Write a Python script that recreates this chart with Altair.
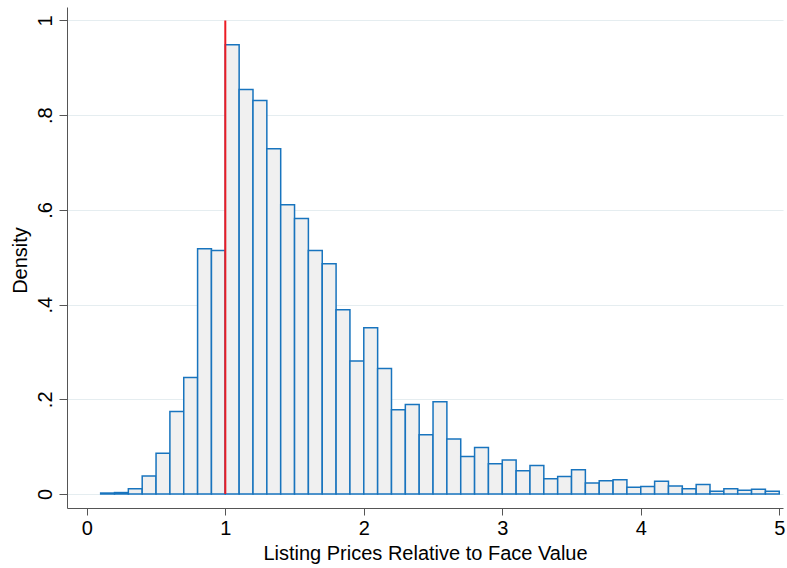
import altair as alt
import pandas as pd

# Histogram of listing price / face value ratios (bin width 0.1)
bin_starts = [round(0.1 * i, 1) for i in range(1, 50)]
density = [
    0.002, 0.003, 0.011, 0.038, 0.086, 0.174, 0.246, 0.518, 0.514,
    0.949, 0.854, 0.831, 0.729, 0.611, 0.582, 0.514, 0.486, 0.389, 0.281,
    0.351, 0.265, 0.178, 0.189, 0.125, 0.195, 0.116, 0.079, 0.098, 0.064,
    0.072, 0.049, 0.060, 0.032, 0.037, 0.051, 0.023, 0.028, 0.030, 0.014,
    0.016, 0.027, 0.017, 0.011, 0.020, 0.006, 0.011, 0.008, 0.010, 0.006,
]
bin_width = 0.1

x_ticks = [0, 1, 2, 3, 4, 5]
y_ticks = [0, 0.2, 0.4, 0.6, 0.8, 1]
y_tick_labels = ["0", ".2", ".4", ".6", ".8", "1"]

face_value_ratio = 1.0

hist = pd.DataFrame({
    "start": bin_starts,
    "end": [round(s + bin_width, 1) for s in bin_starts],
    "density": density,
    "base": [0.0] * len(bin_starts),
})
ref = pd.DataFrame({"x": [face_value_ratio], "y0": [0.0], "y1": [1.0]})

FONT = "Liberation Sans"
AXIS_COLOR = "#555555"

y_label_expr = " : ".join(
    f"abs(datum.value - {v}) < 1e-6 ? '{lab}'" for v, lab in zip(y_ticks, y_tick_labels)
) + " : ''"

x_scale = alt.Scale(domain=[-0.143, 5.027], nice=False, zero=False)
y_scale = alt.Scale(domain=[-0.0296, 1.0285], nice=False, zero=False)

x_axis = alt.Axis(
    values=x_ticks, format="d", grid=False,
    title="Listing Prices Relative to Face Value",
    titleFont=FONT, titleFontSize=20, titleFontWeight="normal", titleColor="black",
    titleY=51, titleBaseline="alphabetic",
    labelFont=FONT, labelFontSize=20, labelColor="black", labelPadding=3,
    tickSize=7, tickColor=AXIS_COLOR, domainColor=AXIS_COLOR,
    labelFlush=False, labelOverlap=False,
)
y_axis = alt.Axis(
    values=y_ticks, labelExpr=y_label_expr,
    grid=True, gridColor="#e5edf0", gridWidth=1,
    title="Density",
    titleFont=FONT, titleFontSize=20, titleFontWeight="normal", titleColor="black",
    titleAngle=270, titleX=-41, titleY=253, titleBaseline="alphabetic", titleAlign="center",
    labelFont=FONT, labelFontSize=20, labelColor="black",
    labelAngle=270, labelAlign="center", labelBaseline="alphabetic", labelPadding=8,
    tickSize=8, tickColor=AXIS_COLOR, domainColor=AXIS_COLOR,
    labelFlush=False, labelOverlap=False,
)

bars = alt.Chart(hist).mark_rect(
    fill="#f0f0f0", stroke="#1874be", strokeWidth=1.5
).encode(
    x=alt.X("start:Q", scale=x_scale, axis=x_axis),
    x2="end:Q",
    y=alt.Y("density:Q", scale=y_scale, axis=y_axis),
    y2="base:Q",
)

# Vertical marker at price = face value
rule = alt.Chart(ref).mark_rule(color="#ec1c24", strokeWidth=2).encode(
    x=alt.X("x:Q", scale=x_scale, axis=x_axis),
    y=alt.Y("y0:Q", scale=y_scale, axis=y_axis),
    y2="y1:Q",
)

chart = alt.layer(bars, rule).properties(
    width=716,
    height=501,
    autosize=alt.AutoSizeParams(type="none"),
    padding={"left": 67, "top": 7, "right": 4, "bottom": 60},
    background="white",
).configure_view(stroke=None)

chart.save("out.html", embed_options={"renderer": "svg", "actions": False})
